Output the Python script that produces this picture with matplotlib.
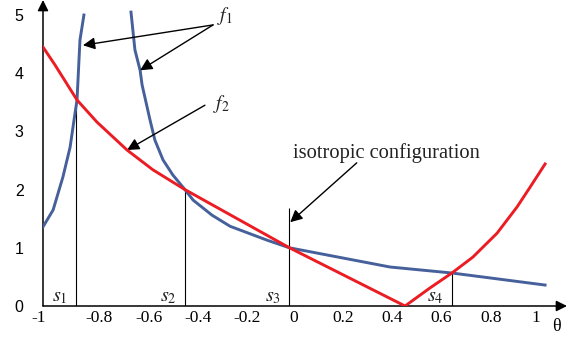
import matplotlib
matplotlib.use("Agg")
import matplotlib.pyplot as plt
from matplotlib.transforms import ScaledTranslation

plt.rcParams['mathtext.fontset'] = 'stix'

# f1 (blue), two branches
f1_left_x = [-1.0, -0.959, -0.919, -0.890, -0.874, -0.862, -0.850, -0.834]
f1_left_y = [1.36, 1.65, 2.22, 2.73, 3.20, 3.54, 4.57, 5.0]
f1_right_x = [-0.643, -0.627, -0.606, -0.598, -0.566, -0.546, -0.513, -0.473,
              -0.424, -0.391, -0.314, -0.241, -0.09, 0.0, 0.408, 0.659, 1.037]
f1_right_y = [5.05, 4.40, 4.05, 3.80, 3.20, 2.85, 2.51, 2.25,
              2.0, 1.82, 1.56, 1.37, 1.13, 1.0, 0.67, 0.567, 0.36]

# f2 (red)
f2_x = [-1.0, -0.951, -0.862, -0.781, -0.659, -0.554, -0.424, -0.229, 0.0,
        0.469, 0.570, 0.659, 0.744, 0.842, 0.923, 0.976, 1.037]
f2_y = [4.45, 4.14, 3.54, 3.16, 2.68, 2.34, 2.0, 1.54, 1.0,
        0.0, 0.31, 0.567, 0.84, 1.25, 1.70, 2.04, 2.44]

# switching points s1..s4
s_x = [-0.866, -0.424, 0.0, 0.659]
s_top = [3.54, 2.0, 1.68, 0.567]
s_names = ['$s_1$', '$s_2$', '$s_3$', '$s_4$']

x_ticks = [-1, -0.8, -0.6, -0.4, -0.2, 0, 0.2, 0.4, 0.6, 0.8, 1]
x_tick_labels = ['-1', '-0.8', '-0.6', '-0.4', '-0.2', '0', '0.2', '0.4', '0.6', '0.8', '1']
y_ticks = [0, 1, 2, 3, 4, 5]

blue = '#45609a'
red = '#ec1c24'

fig = plt.figure(figsize=(5.87, 3.40), dpi=100)
ax = fig.add_axes([43 / 587, 1 - 306 / 340, (567 - 43) / 587, 306 / 340])
ax.set_xlim(-1.0, 1.126)
ax.set_ylim(0, 5.258)

for side in ['top', 'right', 'left', 'bottom']:
    ax.spines[side].set_visible(False)

# axes with arrow heads
arrow = dict(arrowstyle='-|>', color='black', lw=1.1, mutation_scale=16, shrinkA=0, shrinkB=0)
ax.annotate('', xy=(1.126, 0), xytext=(-1.0, 0), arrowprops=arrow, annotation_clip=False)
ax.annotate('', xy=(-1.0, 5.258), xytext=(-1.0, 0), arrowprops=arrow, annotation_clip=False)

ax.set_xticks(x_ticks)
ax.set_xticklabels(x_tick_labels, family='Liberation Serif', fontsize=12.5)
ax.set_yticks(y_ticks)
ax.set_yticklabels([str(v) for v in y_ticks], family='Liberation Sans', fontsize=11.5)
ax.tick_params(axis='x', length=0, pad=3)
ax.tick_params(axis='y', length=0, pad=14)

# nudge x tick labels like the original
x_shift = [-4, 7, 7, 7, 7, 4, 4, 4, 4, 4, 0]
for lab, dx in zip(ax.get_xticklabels(), x_shift):
    lab.set_transform(lab.get_transform() + ScaledTranslation(dx / 100, 0, fig.dpi_scale_trans))

# vertical lines at switching points
ax.vlines(s_x, 0, s_top, colors='black', lw=0.8, zorder=1)

ax.plot(f1_left_x, f1_left_y, color=blue, lw=2.1, zorder=3)
ax.plot(f1_right_x, f1_right_y, color=blue, lw=2.1, zorder=3)
ax.plot(f2_x, f2_y, color=red, lw=2.1, zorder=4)

for x, name in zip(s_x, s_names):
    ax.text(x - 0.035, 0.17, name, ha='right', va='center', fontsize=14.5, color='#222222')

# annotations
head = dict(arrowstyle='-|>', color='black', lw=1.0, mutation_scale=18, shrinkA=0, shrinkB=0)
ax.annotate('', xy=(f1_left_x[6] + 0.012, 4.48), xytext=(-0.31, 4.83), arrowprops=head)
ax.annotate('', xy=(f1_right_x[2], f1_right_y[2]), xytext=(-0.31, 4.83), arrowprops=head)
ax.text(-0.296, 4.98, '$f_1$', ha='left', va='center', fontsize=14, color='#222222')

ax.annotate('', xy=(f2_x[4], f2_y[4]), xytext=(-0.343, 3.45), arrowprops=head)
ax.text(-0.31, 3.47, '$f_2$', ha='left', va='center', fontsize=14, color='#222222')

ax.annotate('', xy=(0.003, 1.44), xytext=(0.273, 2.46), arrowprops=head)
ax.text(0.014, 2.55, 'isotropic configuration', ha='left', va='baseline',
        family='Liberation Serif', fontsize=14.8, color='#222222')

ax.text(1.085, -0.36, 'θ', ha='center', va='center', family='Liberation Serif', fontsize=13)

fig.savefig('out.png', dpi=100)
